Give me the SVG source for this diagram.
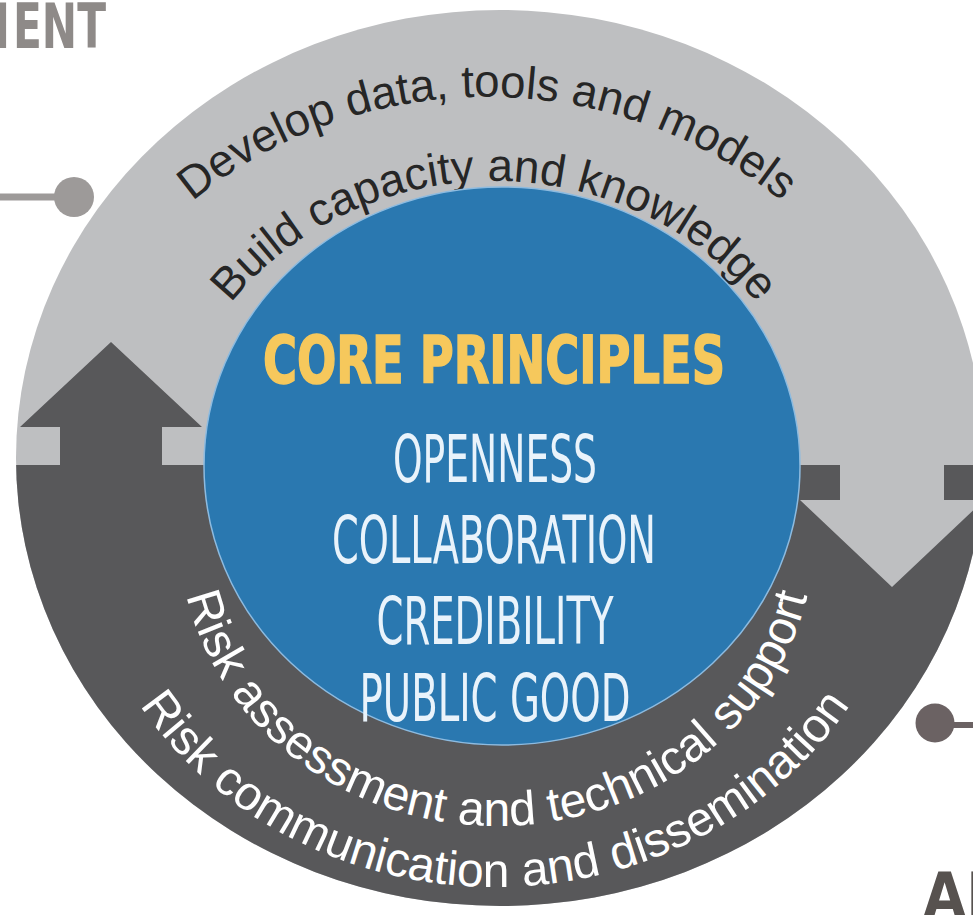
<svg xmlns="http://www.w3.org/2000/svg" width="973" height="915" viewBox="0 0 973 915">
<defs>
<clipPath id="ringClip"><ellipse cx="500" cy="458" rx="484" ry="448"/></clipPath>
<path id="arcTopOuter" d="M 45,507 A 442 410 0 0 1 929,507"/>
<path id="arcTopInner" d="M 166,484 A 328 303 0 0 1 822,484"/>
<path id="arcBotInner" d="M 179,532 A 318 294 0 0 0 815,532"/>
<path id="arcBotOuter" d="M 76,499 A 419 388 0 0 0 914,499"/>
<style>
.light{fill:#bebfc1}
.dark{fill:#58585a}
.arcTop{font-family:"Liberation Sans",Arial,sans-serif;fill:#262626;text-anchor:middle}
.arcBot{font-family:"Liberation Sans",Arial,sans-serif;font-size:48px;fill:#ffffff;text-anchor:middle}
.core{font-family:"Liberation Sans Narrow","DejaVu Sans Condensed","Liberation Sans",sans-serif;font-size:66px;fill:#e9f3fb;text-anchor:middle}
.coreTitle{fill:#f6c85c;stroke:#f6c85c;stroke-width:1.6;font-weight:bold}
.stub{font-family:"Liberation Sans Narrow","DejaVu Sans Condensed","Liberation Sans",sans-serif;font-size:62px;font-weight:bold}
</style>
</defs>
<rect width="973" height="915" fill="#ffffff"/>
<g id="title-fragments">
<text class="stub" y="48" fill="#8e8a88"><tspan x="-32" textLength="42" lengthAdjust="spacingAndGlyphs">M</tspan><tspan x="13" textLength="93" lengthAdjust="spacingAndGlyphs">ENT</tspan></text>
<text class="stub" x="923" y="917" fill="#57524f">AI</text>
</g>
<g id="ring" clip-path="url(#ringClip)">
<rect class="light" x="0" y="0" width="990" height="915"/>
<rect class="dark" x="0" y="465" width="990" height="460"/>
<g id="arrow-up"><polygon class="dark" points="60,466 60,427 20,427 111,342 202,427 162,427 162,466"/></g>
<g id="arrow-down"><polygon class="light" points="840,464 944,464 944,500 984,500 892,587 800,500 840,500"/></g>
</g>
<g id="top-labels">
<text class="arcTop" font-size="45.5"><textPath href="#arcTopOuter" startOffset="50%">Develop data, tools and models</textPath></text>
<text class="arcTop" font-size="45.5"><textPath href="#arcTopInner" startOffset="50%">Build capacity and knowledge</textPath></text>
</g>
<g id="core">
<ellipse cx="502" cy="466" rx="298" ry="279" fill="#2a78b0" stroke="#8dbbe0" stroke-width="1.5"/>
<text class="core coreTitle" x="494" y="383" textLength="462" lengthAdjust="spacingAndGlyphs">CORE PRINCIPLES</text>
<text class="core" x="495" y="482" textLength="204" lengthAdjust="spacingAndGlyphs">OPENNESS</text>
<text class="core" x="494" y="563" textLength="324" lengthAdjust="spacingAndGlyphs">COLLABORATION</text>
<text class="core" x="495" y="644" textLength="237" lengthAdjust="spacingAndGlyphs">CREDIBILITY</text>
<text class="core" x="495" y="721" textLength="271" lengthAdjust="spacingAndGlyphs">PUBLIC GOOD</text>
</g>
<g id="bottom-labels">
<text class="arcBot"><textPath href="#arcBotInner" startOffset="50%">Risk assessment and technical support</textPath></text>
<text class="arcBot"><textPath href="#arcBotOuter" startOffset="50%">Risk communication and dissemination</textPath></text>
</g>
<g id="connectors">
<line x1="0" y1="197" x2="70" y2="197" stroke="#9d9a99" stroke-width="7"/>
<circle cx="74" cy="197" r="20" fill="#9d9a99"/>
<line x1="935" y1="725" x2="973" y2="725" stroke="#6b6263" stroke-width="6"/>
<circle cx="935" cy="723" r="19.5" fill="#6b6263"/>
</g>
</svg>
